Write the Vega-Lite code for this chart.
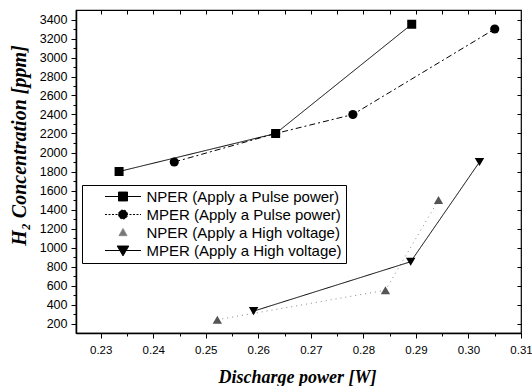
{
  "$schema": "https://vega.github.io/schema/vega-lite/v6.json",
  "width": 445,
  "height": 323,
  "autosize": {"type": "none"},
  "padding": {"left": 76, "top": 10, "right": 11, "bottom": 53},
  "background": "white",
  "config": {
    "view": {"stroke": "black", "strokeWidth": 1.2},
    "axis": {
      "grid": false,
      "labelFont": "Liberation Sans",
      "labelColor": "black",
      "tickColor": "black",
      "domainColor": "black",
      "titleColor": "black",
      "titleFont": "Liberation Serif",
      "titleFontStyle": "italic",
      "titleFontWeight": "bold",
      "titleFontSize": 18
    },
    "legend": {"labelFont": "Liberation Sans", "labelFontSize": 15, "labelColor": "black"}
  },
  "data": {
    "values": [
      {"series": "MPER (Apply a Pulse power)", "x": 0.2440, "y": 1900},
      {"series": "MPER (Apply a Pulse power)", "x": 0.2633, "y": 2200},
      {"series": "MPER (Apply a Pulse power)", "x": 0.2780, "y": 2400},
      {"series": "MPER (Apply a Pulse power)", "x": 0.3050, "y": 3300},
      {"series": "NPER (Apply a Pulse power)", "x": 0.2335, "y": 1800},
      {"series": "NPER (Apply a Pulse power)", "x": 0.2633, "y": 2200},
      {"series": "NPER (Apply a Pulse power)", "x": 0.2892, "y": 3350},
      {"series": "NPER (Apply a High voltage)", "x": 0.2522, "y": 240},
      {"series": "NPER (Apply a High voltage)", "x": 0.2842, "y": 550},
      {"series": "NPER (Apply a High voltage)", "x": 0.2943, "y": 1500},
      {"series": "MPER (Apply a High voltage)", "x": 0.2591, "y": 330},
      {"series": "MPER (Apply a High voltage)", "x": 0.2890, "y": 850},
      {"series": "MPER (Apply a High voltage)", "x": 0.3021, "y": 1900}
    ]
  },
  "layer": [
    {
      "mark": {"type": "line", "strokeWidth": 1},
      "encoding": {
        "x": {"field": "x", "type": "quantitative", "scale": {"domain": [0.2253, 0.31], "nice": false, "zero": false},
          "axis": {"orient": "bottom", "values": [0.23, 0.24, 0.25, 0.26, 0.27, 0.28, 0.29, 0.30, 0.31], "format": ".2f", "labelFontSize": 11.5, "labelFlush": false, "tickSize": 5, "labelPadding": 6, "domainWidth": 1.5,
            "title": "Discharge power [W]", "titleX": 221, "titleY": 44, "titleBaseline": "middle", "titleAlign": "center"}},
        "y": {"field": "y", "type": "quantitative", "scale": {"domain": [100, 3500], "nice": false, "zero": false},
          "axis": {"orient": "left", "values": [200, 400, 600, 800, 1000, 1200, 1400, 1600, 1800, 2000, 2200, 2400, 2600, 2800, 3000, 3200, 3400], "format": "d", "labelFontSize": 12.5, "tickSize": 5, "labelPadding": 4, "domainWidth": 1.5,
            "title": "H₂ Concentration [ppm]", "titleFontSize": 20, "titleX": -57, "titleY": 135, "titleAngle": -90, "titleBaseline": "middle", "titleAlign": "center"}},
        "color": {"field": "series", "type": "nominal", "legend": null,
          "scale": {"domain": ["NPER (Apply a Pulse power)", "MPER (Apply a Pulse power)", "NPER (Apply a High voltage)", "MPER (Apply a High voltage)"], "range": ["black", "black", "#888888", "black"]}},
        "strokeDash": {"field": "series", "type": "nominal", "legend": null,
          "scale": {"domain": ["NPER (Apply a Pulse power)", "MPER (Apply a Pulse power)", "NPER (Apply a High voltage)", "MPER (Apply a High voltage)"], "range": [[1, 0], [6, 3, 2, 3], [1, 4], [1, 0]]}}
      }
    },
    {
      "mark": {"type": "point", "filled": true, "opacity": 1},
      "encoding": {
        "x": {"field": "x", "type": "quantitative",
          "axis": {"orient": "bottom", "values": [0.235, 0.245, 0.255, 0.265, 0.275, 0.285, 0.295, 0.305], "labels": false, "domain": false, "tickSize": 3, "title": null}},
        "y": {"field": "y", "type": "quantitative",
          "axis": {"orient": "left", "values": [300, 500, 700, 900, 1100, 1300, 1500, 1700, 1900, 2100, 2300, 2500, 2700, 2900, 3100, 3300], "labels": false, "domain": false, "tickSize": 3, "title": null}},
        "color": {"field": "series", "type": "nominal", "legend": null,
          "scale": {"domain": ["NPER (Apply a Pulse power)", "MPER (Apply a Pulse power)", "NPER (Apply a High voltage)", "MPER (Apply a High voltage)"], "range": ["black", "black", "#555555", "black"]}},
        "shape": {"field": "series", "type": "nominal", "legend": null,
          "scale": {"domain": ["NPER (Apply a Pulse power)", "MPER (Apply a Pulse power)", "NPER (Apply a High voltage)", "MPER (Apply a High voltage)"], "range": ["square", "circle", "triangle-up", "triangle-down"]}},
        "size": {"field": "series", "type": "nominal", "legend": null,
          "scale": {"domain": ["NPER (Apply a Pulse power)", "MPER (Apply a Pulse power)", "NPER (Apply a High voltage)", "MPER (Apply a High voltage)"], "range": [81, 90, 100, 160]}}
      }
    },
    {
      "data": {"values": []},
      "mark": {"type": "point", "filled": true, "opacity": 1},
      "encoding": {
        "x": {"field": "x", "type": "quantitative",
          "axis": {"orient": "top", "values": [0.23, 0.235, 0.24, 0.245, 0.25, 0.255, 0.26, 0.265, 0.27, 0.275, 0.28, 0.285, 0.29, 0.295, 0.30, 0.305], "labels": false, "domain": false, "tickSize": -4, "title": null}},
        "y": {"field": "y", "type": "quantitative",
          "axis": {"orient": "right", "values": [200, 400, 600, 800, 1000, 1200, 1400, 1600, 1800, 2000, 2200, 2400, 2600, 2800, 3000, 3200, 3400], "labels": false, "domain": false, "tickSize": -4, "title": null}},
        "fill": {"field": "series", "type": "nominal",
          "scale": {"domain": ["NPER (Apply a Pulse power)", "MPER (Apply a Pulse power)", "NPER (Apply a High voltage)", "MPER (Apply a High voltage)"], "range": ["black", "black", "#777777", "black"]},
          "legend": {"orient": "none", "legendX": 6, "legendY": 175, "title": null, "padding": 4, "strokeColor": "black", "fillColor": "white", "symbolSize": 81, "symbolOffset": 29.5, "labelOffset": 16, "rowPadding": 2, "symbolStrokeWidth": 1, "labelExpr": "datum.label + '     '", "labelLimit": 400}},
        "stroke": {"field": "series", "type": "nominal",
          "scale": {"domain": ["NPER (Apply a Pulse power)", "MPER (Apply a Pulse power)", "NPER (Apply a High voltage)", "MPER (Apply a High voltage)"], "range": ["black", "black", "#888888", "black"]},
          "legend": {"orient": "none", "legendX": 6, "legendY": 175, "title": null, "padding": 4, "strokeColor": "black", "fillColor": "white", "symbolSize": 81, "symbolOffset": 29.5, "labelOffset": 16, "rowPadding": 2, "symbolStrokeWidth": 1, "labelExpr": "datum.label + '     '", "labelLimit": 400}},
        "strokeDash": {"field": "series", "type": "nominal",
          "scale": {"domain": ["NPER (Apply a Pulse power)", "MPER (Apply a Pulse power)", "NPER (Apply a High voltage)", "MPER (Apply a High voltage)"], "range": [[1, 0], [2, 1.5], [1, 0], [1, 0]]},
          "legend": {"orient": "none", "legendX": 6, "legendY": 175, "title": null, "padding": 4, "strokeColor": "black", "fillColor": "white", "symbolSize": 81, "symbolOffset": 29.5, "labelOffset": 16, "rowPadding": 2, "symbolStrokeWidth": 1, "labelExpr": "datum.label + '     '", "labelLimit": 400}},
        "shape": {"field": "series", "type": "nominal",
          "scale": {"domain": ["NPER (Apply a Pulse power)", "MPER (Apply a Pulse power)", "NPER (Apply a High voltage)", "MPER (Apply a High voltage)"], "range": ["M-4,0H4M-1,-1H1V1H-1Z", "M-4,0H4M-1,0A1,1,0,1,0,1,0A1,1,0,1,0,-1,0Z", "M0,-0.9L0.9,0.7L-0.9,0.7Z", "M-4,0H4M-1.3,-1H1.3L0,1.2Z"]},
          "legend": {"orient": "none", "legendX": 6, "legendY": 175, "title": null, "padding": 4, "strokeColor": "black", "fillColor": "white", "symbolSize": 81, "symbolOffset": 29.5, "labelOffset": 16, "rowPadding": 2, "symbolStrokeWidth": 1, "labelExpr": "datum.label + '     '", "labelLimit": 400}}
      }
    }
  ],
  "resolve": {
    "axis": {"x": "independent", "y": "independent"},
    "scale": {"color": "independent", "shape": "independent", "strokeDash": "independent", "size": "independent", "fill": "independent", "stroke": "independent"}
  }
}
